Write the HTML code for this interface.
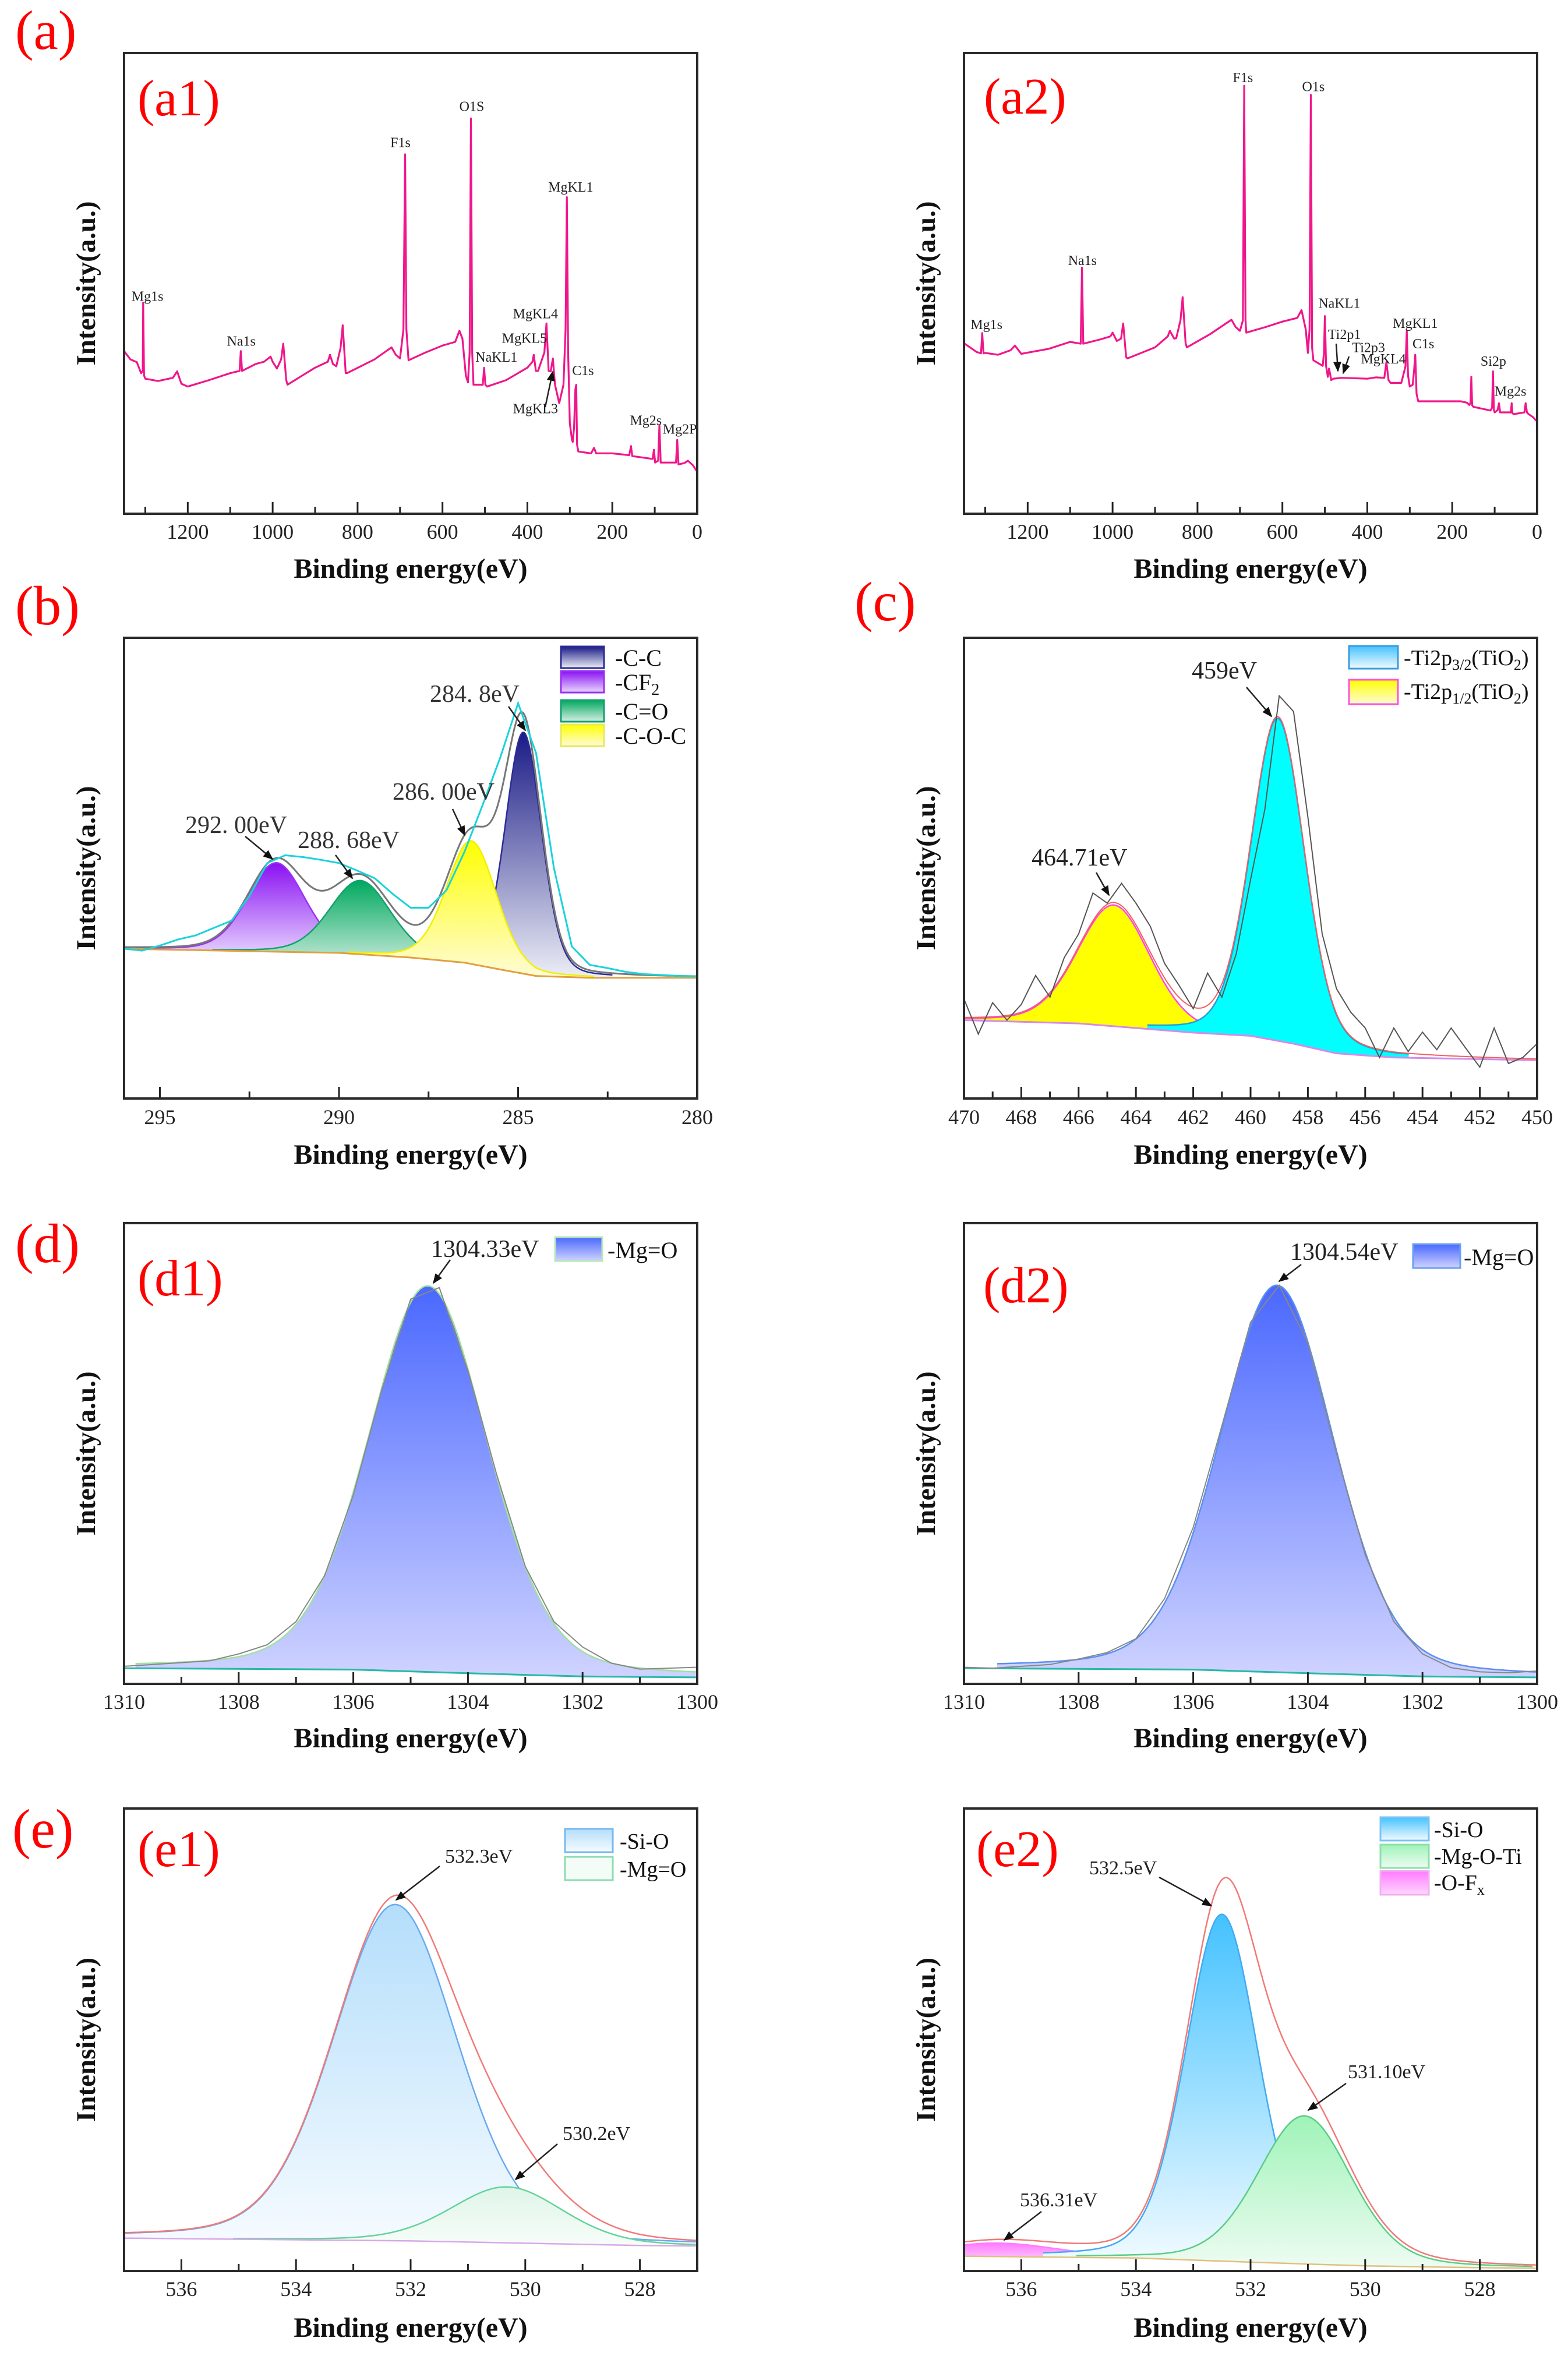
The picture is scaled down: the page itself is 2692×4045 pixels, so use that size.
<!DOCTYPE html>
<html><head><meta charset="utf-8">
<style>
html,body{margin:0;padding:0;background:#fff;}
svg{display:block;}
text{font-family:"Liberation Serif","Noto Serif CJK SC",serif;}
</style></head>
<body>
<svg id="fig" xmlns="http://www.w3.org/2000/svg" width="2692" height="4045" viewBox="0 0 2692 4045">
<defs id="defs">
<marker id="arr" viewBox="0 0 10 10" refX="9" refY="5" markerWidth="7" markerHeight="7" orient="auto"><path d="M0,1 L10,5 L0,9 z" fill="#111"/></marker>
</defs>
<rect x="0" y="0" width="2692" height="4045" fill="#fff"/>
</svg>
<script>
// ---------- DATA ----------
const a1Spectrum = [[1350,35.3],[1335,33.5],[1320,32.9],[1310,30.5],[1306,31],[1305,45.8],[1303,30],[1300,29.3],[1270,28.8],[1235,29.5],[1225,30.9],[1215,28.2],[1200,27.6],[1150,29],[1100,30.5],[1078,31],[1075,35.3],[1072,31],[1040,32.5],[1020,33],[1005,34.1],[1000,33],[990,31.5],[980,33.5],[975,36.9],[968,29],[965,28.0],[930,30],[900,31.7],[870,33],[865,34.5],[858,32.5],[850,32],[840,36],[835,40.9],[828,30.5],[825,30.5],[760,33.5],[720,36.1],[710,34.5],[700,33.7],[692,40],[688,78],[685,40],[680,33.3],[640,35],[600,36.5],[570,37.3],[560,39.7],[553,38],[545,30],[540,28.5],[536,35],[533,85.8],[530,35],[527,28],[505,28],[502,31.7],[499,28],[495,27.6],[450,29],[400,31.7],[388,33],[385,34.5],[380,31],[375,31],[360,35],[355,41.3],[350,31],[345,30.9],[340,33.7],[335,28],[325,24],[315,28],[310,40],[307,68.7],[304,35],[300,19.6],[295,16],[293,15.6],[290,18.8],[287,27],[285,28],[283,15],[280,13.5],[250,13.1],[243,14.3],[238,13.1],[200,13.1],[160,12.7],[156,14.7],[153,12.5],[105,11.9],[102,13.9],[99,11.1],[92,11.5],[89,19.2],[86,11.1],[50,11.1],[47,16.0],[44,10.7],[30,11],[22,11.5],[10,10.5],[0,9.1]];
const a1Labels = [["Mg1s",1295,46.2],["Na1s",1074,36.5],["F1s",699,79.6],["O1S",531,87.4],["MgKL1",298,69.9],["MgKL4",381,42.4],["MgKL5",407,37.1],["NaKL1",473,33.0],["C1s",269,30.1],["MgKL3",381,21.8],["Mg2s",121,19.3],["Mg2P",41,17.4]];
const a2Spectrum = [[1350,37.0],[1320,35.1],[1310,34.8],[1307,39.2],[1304,34.8],[1300,34.9],[1270,34.5],[1240,35.5],[1230,36.5],[1215,34.7],[1150,35.8],[1100,37.3],[1075,36.9],[1072,53.4],[1069,36.9],[1030,37.8],[1005,38.5],[1000,39.3],[990,37.5],[980,38],[975,41.3],[968,34],[965,33.7],[930,35],[900,36.1],[870,38.5],[865,39.7],[855,38],[850,38.1],[840,42],[835,47.0],[828,37],[825,36.1],[770,39],[720,42.1],[710,40.5],[700,39.7],[693,42],[690,92.9],[687,42],[685,39.3],[640,40.5],[600,41.7],[565,42.5],[555,44.2],[545,40],[540,34.9],[536,40],[533,90.9],[530,36],[527,33.3],[505,32.1],[502,35],[500,42.9],[497,32],[493,29.7],[490,31.5],[485,29],[480,29.3],[460,29.5],[400,29.3],[380,29.6],[360,29.5],[355,32.9],[350,29],[345,28.4],[320,28.4],[310,32],[307,39.7],[304,30],[300,27.6],[293,28],[290,30.9],[287,34.5],[284,26],[280,24.4],[200,24.4],[180,24.4],[165,24.1],[160,23.6],[157,24],[155,29.7],[153,23.5],[150,23.2],[110,22.4],[106,23],[104,30.9],[102,22.5],[100,22.0],[93,22.5],[90,24.0],[87,22],[85,22],[62,22],[60,24],[58,21.8],[55,21.6],[30,22],[27,24.0],[24,22],[20,21.6],[10,21],[0,20.0]];
const a2Labels = [["Mg1s",1297,40.1],["Na1s",1071,54.0],["F1s",693,93.7],["O1s",527,91.7],["NaKL1",466,44.7],["Ti2p1",454,37.9],["Ti2p3",397,35.1],["MgKL4",362,32.6],["MgKL1",287,40.3],["C1s",268,35.9],["Si2p",103,32.1],["Mg2s",63,25.6]];
const surveyMajor = [1200,1000,800,600,400,200,0];
const surveyMinor = [1300,1100,900,700,500,300,100];

const bBaseline = [[296,32.5],[290,31.6],[288,30.6],[286.5,29.5],[285.5,28.0],[284.5,26.6],[283,26.2],[280,26.2]];
const bNames = ["-C-C","-CF2","-C=O","-C-O-C"];
const bCenters = [284.85,291.75,289.4,286.3];
const bHeights = [52.4,19.3,16.0,26.7];
const bFwhm = [1.2,1.9,2.0,1.65];
const bRaw = [[296,32.5],[295.5,32.1],[295,33.2],[294.5,34.5],[294,35.4],[293.5,37.0],[293,38.6],[292.5,44],[292,51.1],[291.5,52.8],[291,52.4],[290.5,51.8],[290,51.1],[289.5,49.5],[289,47.8],[288.5,44.4],[288,41.4],[287.5,41.4],[287,45.2],[286.5,53.5],[286,63.5],[285.5,74],[285,85.8],[284.5,75],[284,50],[283.5,33],[283,29],[282.5,28.3],[282,27.5],[281.5,27],[281,26.8],[280.5,26.6],[280,26.5]];
const bMajor = [295,290,285,280];
const bMinor = [292.5,287.5,282.5];

const cBaseline = [[470,17.0],[466,16.3],[464,15.3],[462,14.3],[460,13.6],[458.5,11.9],[457,9.8],[455,8.9],[450,8.3]];
const cCenters = [459.05,464.77];
const cHeights = [70,26.3];
const cFwhm = [2.2,3.0];
const cRaw = [[470,21.6],[469.5,14],[469,20.8],[468.5,17],[468,20.4],[467.5,26.7],[467,22],[466.5,30.6],[466,35.7],[465.5,44.6],[465,42.4],[464.5,46.7],[464,42.4],[463.5,37.4],[463,29.3],[462.5,24.6],[462,19.5],[461.5,27.2],[461,22],[460.5,31.4],[460,47.5],[459.5,62.8],[459,87.4],[458.5,84],[458,61.1],[457.5,35.7],[457,23.8],[456.5,18.7],[456,15.3],[455.5,8.9],[455,15.3],[454.5,10.2],[454,14.4],[453.5,10.6],[453,15.3],[452.5,11],[452,6.8],[451.5,15.3],[451,7.6],[450.5,8.9],[450,11.9]];
const cMajor = [470,468,466,464,462,460,458,456,454,452,450];
const cMinor = [469,467,465,463,461,459,457,455,453,451];

const dBaseline = [[1310,3.4],[1306,3.1],[1304,2.3],[1302,1.6],[1300,1.4]];
const d1Center = [1304.7], d1Height = [83.8], d1Fwhm = [2.45];
const d2Center = [1304.54], d2Height = [84.0], d2Fwhm = [2.35];
const d1Raw = [[1310,3.8],[1309.5,4.2],[1309,4.6],[1308.5,5],[1308,6.5],[1307.5,8.5],[1307,13.5],[1306.5,23.5],[1306,41],[1305.5,64],[1305,83.5],[1304.5,86],[1304,68],[1303.5,45.5],[1303,25.5],[1302.5,13.5],[1302,8],[1301.5,4.5],[1301,3.2],[1300.5,3.4],[1300,3.6]];
const d2Raw = [[1310,3.6],[1309.5,3.4],[1309,3.8],[1308.5,4.2],[1308,5.4],[1307.5,6.8],[1307,9.8],[1306.5,18.5],[1306,34],[1305.5,56],[1305,78.5],[1304.5,86.5],[1304,74],[1303.5,50],[1303,28],[1302.5,13.5],[1302,6.5],[1301.5,3.5],[1301,2.6],[1300.5,2.4],[1300,2.8]];
const dMajor = [1310,1308,1306,1304,1302,1300];
const dMinor = [1309,1307,1305,1303,1301];

const e1Baseline = [[537,7.1],[532,6.5],[530,6.0],[528,5.5],[527,5.4]];
const e1Centers = [532.27,530.32];
const e1Heights = [72.7,12.1];
const e1Fwhm = [2.55,2.3];
const e2Baseline = [[537,3.2],[534,2.8],[532,1.9],[530,1.1],[528,0.7],[527,0.6]];
const e2Centers = [532.5,531.06,536.4];
const e2Heights = [75,32,2.9];
const e2Fwhm = [1.5,1.92,2.5];
const eMajor = [536,534,532,530,528];
const eMinor = [535,533,531,529];

// ---------- HELPERS ----------
const NS = "http://www.w3.org/2000/svg";
const svg = document.getElementById('fig');
const defs = document.getElementById('defs');
function mk(tag, attrs, name, parent){
  const e = document.createElementNS(NS, tag);
  for (const k in attrs) e.setAttribute(k, attrs[k]);
  
  
  (parent || svg).appendChild(e);
  return e;
}
function txt(x, y, s, size, name, opt){
  opt = opt || {};
  const e = mk('text', {x:x, y:y, 'font-size':size, fill:opt.fill||'#111', 'text-anchor':opt.anchor||'start', 'font-weight':opt.weight||'normal'}, name, opt.parent);
  if (opt.rot) e.setAttribute('transform', 'rotate(' + opt.rot + ' ' + x + ' ' + y + ')');
  e.innerHTML = s;
  return e;
}
function grad(id, top, bottom){
  const g = document.createElementNS(NS, 'linearGradient');
  g.setAttribute('id', id); g.setAttribute('x1','0'); g.setAttribute('y1','0'); g.setAttribute('x2','0'); g.setAttribute('y2','1');
  g.innerHTML = '<stop offset="0" stop-color="' + top + '"/><stop offset="1" stop-color="' + bottom + '"/>';
  defs.appendChild(g);
}
function interp(arr, x){
  for (let i = 0; i < arr.length - 1; i++){
    const a = arr[i], b = arr[i+1];
    if ((x <= a[0] && x >= b[0]) || (x >= a[0] && x <= b[0])){
      const t = (x - a[0]) / (b[0] - a[0]);
      return a[1] + t * (b[1] - a[1]);
    }
  }
  return arr[arr.length-1][1];
}
function gl(x, c, a, f){
  const t = (x - c) / f;
  return a * (0.78 * Math.exp(-4 * Math.LN2 * t * t) + 0.22 / (1 + 4 * t * t));
}
function makeAxes(p){
  p.sx = v => p.x0 + (p.xL - v) / (p.xL - p.xR) * p.w;
  p.sy = v => p.y0 + p.h - v / 100 * p.h;
}
function frame(p, key){
  const g = mk('g', {}, 'panel-' + key + '-axes');
  p.major.forEach(v => {
    mk('line', {x1:p.sx(v), x2:p.sx(v), y1:p.y0+p.h, y2:p.y0+p.h-20, stroke:'#222', 'stroke-width':3}, 'x-major-tick', g);
    txt(p.sx(v), p.tickY, String(v), 36, 'x-tick-label', {anchor:'middle', fill:'#222', parent:g});
  });
  p.minor.forEach(v => {
    mk('line', {x1:p.sx(v), x2:p.sx(v), y1:p.y0+p.h, y2:p.y0+p.h-12, stroke:'#222', 'stroke-width':3}, 'x-minor-tick', g);
  });
  mk('rect', {x:p.x0, y:p.y0, width:p.w, height:p.h, fill:'none', stroke:'#2a2a2a', 'stroke-width':4}, 'plot-frame', g);
  txt(p.x0 + p.w/2, p.titleY, 'Binding energy(eV)', 48, 'x-axis-title', {anchor:'middle', weight:'bold', parent:g});
  const yx = p.x0 - 50, yy = p.y0 + p.h/2;
  txt(yx, yy, 'Intensity(a.u.)', 47, 'y-axis-title', {anchor:'middle', weight:'bold', rot:-90, parent:g});
}
function polyPath(p, pts){
  return pts.map((q,i) => (i ? 'L' : 'M') + p.sx(q[0]).toFixed(1) + ',' + p.sy(q[1]).toFixed(1)).join(' ');
}
function component(p, base, c, a, f, fill, stroke, name){
  const top = [], bot = [];
  const n = 500;
  for (let i = 0; i <= n; i++){
    const x = p.xL + (p.xR - p.xL) * i / n;
    const v = gl(x, c, a, f);
    if (v < a * 0.012) continue;
    const b = interp(base, x);
    top.push([x, b + v]); bot.push([x, b]);
  }
  const d = polyPath(p, top) + ' ' + bot.reverse().map(q => 'L' + p.sx(q[0]).toFixed(1) + ',' + p.sy(q[1]).toFixed(1)).join(' ') + ' Z';
  mk('path', {d:d, fill:fill, stroke:'none'}, name + '-fill');
  mk('path', {d:polyPath(p, top), fill:'none', stroke:stroke, 'stroke-width':2.5}, name + '-outline');
}
function envelope(p, base, cs, hs, fs){
  const pts = [];
  const n = 500;
  for (let i = 0; i <= n; i++){
    const x = p.xL + (p.xR - p.xL) * i / n;
    let v = interp(base, x);
    for (let k = 0; k < cs.length; k++) v += gl(x, cs[k], hs[k], fs[k]);
    pts.push([x, v]);
  }
  return pts;
}
function line(x1,y1,x2,y2,name){
  mk('line', {x1:x1, y1:y1, x2:x2, y2:y2, stroke:'#222', 'stroke-width':2.5, 'marker-end':'url(#arr)'}, name);
}
function swatch(x, y, w, h, fill, stroke, name){
  mk('rect', {x:x, y:y, width:w, height:h, fill:fill, stroke:stroke, 'stroke-width':3}, name);
}

// ---------- PANELS ----------
const W = 984, H = 791;
const P = {
  a1:{x0:213, y0:91, w:W, h:H, xL:1350, xR:0, major:surveyMajor, minor:surveyMinor, tickY:925, titleY:992},
  a2:{x0:1655, y0:91, w:W, h:H, xL:1350, xR:0, major:surveyMajor, minor:surveyMinor, tickY:925, titleY:992},
  b:{x0:213, y0:1095, w:W, h:H, xL:296, xR:280, major:bMajor, minor:bMinor, tickY:1930, titleY:1998},
  c:{x0:1655, y0:1095, w:W, h:H, xL:470, xR:450, major:cMajor, minor:cMinor, tickY:1930, titleY:1998},
  d1:{x0:213, y0:2100, w:W, h:H, xL:1310, xR:1300, major:dMajor, minor:dMinor, tickY:2934, titleY:3000},
  d2:{x0:1655, y0:2100, w:W, h:H, xL:1310, xR:1300, major:dMajor, minor:dMinor, tickY:2934, titleY:3000},
  e1:{x0:213, y0:3105, w:W, h:794, xL:537, xR:527, major:eMajor, minor:eMinor, tickY:3942, titleY:4012},
  e2:{x0:1655, y0:3105, w:W, h:794, xL:537, xR:527, major:eMajor, minor:eMinor, tickY:3942, titleY:4012}
};
for (const k in P) makeAxes(P[k]);

grad('gCC', '#1a1a86', '#eceef6');
grad('gCF', '#8a10f2', '#e8d8ff');
grad('gCO', '#00a85e', '#d6efe4');
grad('gCOC', '#ffff00', '#fffbd8');
grad('gMg', '#4a68ff', '#cfd3ff');
grad('gSi1', '#b4defb', '#f6fbff');
grad('gMgO1', '#dff5e8', '#f7fdf9');
grad('gSi2', '#44c2ff', '#f3fbff');
grad('gMOT', '#9ff3b8', '#eefcf2');
grad('gOF', '#ff7aff', '#ffd6ff');

[['a1', a1Spectrum, a1Labels], ['a2', a2Spectrum, a2Labels]].forEach(s => {
  const p = P[s[0]];
  mk('path', {d:polyPath(p, s[1]), fill:'none', stroke:'#f0168a', 'stroke-width':3.2, 'stroke-linejoin':'round'}, 'survey-spectrum-' + s[0]);
  s[2].forEach(l => {
    txt(p.sx(l[1]), p.sy(l[2]), l[0], 24, 'peak-label', {anchor:'middle', fill:'#222'});
  });
});
line(936, 699, 949, 638, 'mgkl3-arrow');
line(2294, 590, 2297, 637, 'ti2p1-arrow');
line(2316, 612, 2306, 641, 'ti2p3-arrow');

(function(){
  const p = P.b;
  const fills = ['url(#gCC)','url(#gCF)','url(#gCO)','url(#gCOC)'];
  const strokes = ['#2c2c96','#9a30f5','#15a070','#f0f000'];
  [1,2,0,3].forEach(i => component(p, bBaseline, bCenters[i], bHeights[i], bFwhm[i], fills[i], strokes[i], 'c1s-component-' + i));
  mk('path', {d:polyPath(p, bBaseline), fill:'none', stroke:'#e0a040', 'stroke-width':3}, 'c1s-baseline');
  mk('path', {d:polyPath(p, envelope(p, bBaseline, bCenters, bHeights, bFwhm)), fill:'none', stroke:'#777', 'stroke-width':3}, 'c1s-envelope');
  mk('path', {d:polyPath(p, bRaw), fill:'none', stroke:'#19d3dc', 'stroke-width':3}, 'c1s-raw-data');
  const lx = 963, ly = [1110,1152,1202,1244];
  for (let i = 0; i < 4; i++) swatch(lx, ly[i], 74, 37, fills[i], strokes[i] === '#f0f000' ? '#e8e860' : strokes[i], 'legend-swatch');
  txt(1056, 1143, '-C-C', 40, 'legend-entry');
  txt(1056, 1185, '-CF<tspan font-size="28" dy="8">2</tspan>', 40, 'legend-entry');
  txt(1056, 1235, '-C=O', 40, 'legend-entry');
  txt(1056, 1277, '-C-O-C', 40, 'legend-entry');
  txt(738, 1205, '284. 8eV', 42, 'peak-annotation', {fill:'#333'});
  line(873, 1213, 902, 1254, 'annotation-arrow');
  txt(674, 1373, '286. 00eV', 42, 'peak-annotation', {fill:'#333'});
  line(777, 1389, 798, 1434, 'annotation-arrow');
  txt(318, 1430, '292. 00eV', 42, 'peak-annotation', {fill:'#333'});
  line(421, 1436, 468, 1475, 'annotation-arrow');
  txt(511, 1456, '288. 68eV', 42, 'peak-annotation', {fill:'#333'});
  line(576, 1468, 605, 1508, 'annotation-arrow');
})();

(function(){
  const p = P.c;
  component(p, cBaseline, cCenters[1], cHeights[1], cFwhm[1], '#ffff00', '#ff44ee', 'ti2p12-component');
  component(p, cBaseline, cCenters[0], cHeights[0], cFwhm[0], '#00ffff', '#2a9bd8', 'ti2p32-component');
  mk('path', {d:polyPath(p, cBaseline), fill:'none', stroke:'#d48ae8', 'stroke-width':3}, 'ti2p-baseline');
  mk('path', {d:polyPath(p, envelope(p, cBaseline, cCenters, cHeights, cFwhm)), fill:'none', stroke:'#f06060', 'stroke-width':2}, 'ti2p-envelope');
  mk('path', {d:polyPath(p, cRaw), fill:'none', stroke:'#555', 'stroke-width':2}, 'ti2p-raw-data');
  swatch(2316, 1109, 84, 39, 'url(#gSi2)', '#3a9be0', 'legend-swatch');
  swatch(2316, 1167, 84, 42, 'url(#gCOC)', '#ff50e0', 'legend-swatch');
  txt(2410, 1142, '-Ti2p<tspan font-size="26" dy="8">3/2</tspan><tspan dy="-8">(TiO</tspan><tspan font-size="26" dy="8">2</tspan><tspan dy="-8">)</tspan>', 38, 'legend-entry');
  txt(2410, 1200, '-Ti2p<tspan font-size="26" dy="8">1/2</tspan><tspan dy="-8">(TiO</tspan><tspan font-size="26" dy="8">2</tspan><tspan dy="-8">)</tspan>', 38, 'legend-entry');
  txt(2046, 1165, '459eV', 42, 'peak-annotation', {fill:'#222'});
  line(2140, 1180, 2183, 1230, 'annotation-arrow');
  txt(1771, 1486, '464.71eV', 42, 'peak-annotation', {fill:'#222'});
  line(1882, 1498, 1904, 1537, 'annotation-arrow');
})();

[['d1', d1Center, d1Height, d1Fwhm, d1Raw], ['d2', d2Center, d2Height, d2Fwhm, d2Raw]].forEach(s => {
  const p = P[s[0]];
  component(p, dBaseline, s[1][0], s[2][0], s[3][0], 'url(#gMg)', s[0] === 'd1' ? '#a0e0a0' : '#5a90f0', 'mg1s-component-' + s[0]);
  mk('path', {d:polyPath(p, dBaseline), fill:'none', stroke:'#28b8a8', 'stroke-width':3}, 'mg1s-baseline');
  mk('path', {d:polyPath(p, s[4]), fill:'none', stroke:'#888', 'stroke-width':2}, 'mg1s-raw-data');
});
swatch(953, 2124, 81, 41, 'url(#gMg)', '#b8e8b8', 'legend-swatch');
txt(1043, 2160, '-Mg=O', 40, 'legend-entry');
txt(740, 2158, '1304.33eV', 42, 'peak-annotation', {fill:'#222'});
line(773, 2163, 744, 2203, 'annotation-arrow');
swatch(2426, 2136, 81, 41, 'url(#gMg)', '#6aa0f0', 'legend-swatch');
txt(2513, 2172, '-Mg=O', 40, 'legend-entry');
txt(2215, 2163, '1304.54eV', 42, 'peak-annotation', {fill:'#222'});
line(2234, 2171, 2196, 2200, 'annotation-arrow');

(function(){
  const p = P.e1;
  component(p, e1Baseline, e1Centers[0], e1Heights[0], e1Fwhm[0], 'url(#gSi1)', '#6aaaf0', 'si-o-component');
  component(p, e1Baseline, e1Centers[1], e1Heights[1], e1Fwhm[1], 'url(#gMgO1)', '#66d39a', 'mg-o-component');
  mk('path', {d:polyPath(p, e1Baseline), fill:'none', stroke:'#d8a8e8', 'stroke-width':2.5}, 'o1s-baseline');
  mk('path', {d:polyPath(p, envelope(p, e1Baseline, e1Centers, e1Heights, e1Fwhm)), fill:'none', stroke:'#f07a78', 'stroke-width':2.5}, 'o1s-envelope');
  swatch(970, 3140, 82, 40, 'url(#gSi1)', '#78b8f0', 'legend-swatch');
  swatch(970, 3188, 82, 40, '#f4fcf7', '#8adcb0', 'legend-swatch');
  txt(1064, 3174, '-Si-O', 38, 'legend-entry');
  txt(1064, 3222, '-Mg=O', 38, 'legend-entry');
  txt(764, 3198, '532.3eV', 34, 'peak-annotation', {fill:'#222'});
  line(755, 3204, 680, 3262, 'annotation-arrow');
  txt(966, 3674, '530.2eV', 34, 'peak-annotation', {fill:'#222'});
  line(957, 3681, 885, 3742, 'annotation-arrow');
})();

(function(){
  const p = P.e2;
  component(p, e2Baseline, e2Centers[2], e2Heights[2], e2Fwhm[2], 'url(#gOF)', '#ff7aff', 'o-fx-component');
  component(p, e2Baseline, e2Centers[0], e2Heights[0], e2Fwhm[0], 'url(#gSi2)', '#44aaf0', 'si-o-component');
  component(p, e2Baseline, e2Centers[1], e2Heights[1], e2Fwhm[1], 'url(#gMOT)', '#5ccc88', 'mg-o-ti-component');
  mk('path', {d:polyPath(p, e2Baseline), fill:'none', stroke:'#e0c080', 'stroke-width':2.5}, 'o1s-baseline');
  mk('path', {d:polyPath(p, envelope(p, e2Baseline, e2Centers, e2Heights, e2Fwhm)), fill:'none', stroke:'#f07a78', 'stroke-width':2.5}, 'o1s-envelope');
  swatch(2370, 3120, 83, 40, 'url(#gSi2)', '#7ac4f4', 'legend-swatch');
  swatch(2370, 3167, 83, 40, 'url(#gMOT)', '#8ee0aa', 'legend-swatch');
  swatch(2370, 3212, 83, 41, 'url(#gOF)', '#f0b0f0', 'legend-swatch');
  txt(2462, 3154, '-Si-O', 38, 'legend-entry');
  txt(2462, 3200, '-Mg-O-Ti', 38, 'legend-entry');
  txt(2462, 3245, '-O-F<tspan font-size="26" dy="8">x</tspan>', 38, 'legend-entry');
  txt(1870, 3218, '532.5eV', 34, 'peak-annotation', {fill:'#222'});
  line(1990, 3223, 2080, 3272, 'annotation-arrow');
  txt(2314, 3568, '531.10eV', 34, 'peak-annotation', {fill:'#222'});
  line(2311, 3577, 2246, 3623, 'annotation-arrow');
  txt(1751, 3788, '536.31eV', 34, 'peak-annotation', {fill:'#222'});
  line(1788, 3797, 1724, 3846, 'annotation-arrow');
})();

for (const k in P) frame(P[k], k);

txt(26, 84, '(a)', 95, 'panel-label-a', {fill:'#ff0000'});
txt(236, 198, '(a1)', 88, 'panel-label-a1', {fill:'#ff0000'});
txt(1689, 195, '(a2)', 88, 'panel-label-a2', {fill:'#ff0000'});
txt(26, 1072, '(b)', 95, 'panel-label-b', {fill:'#ff0000'});
txt(1467, 1065, '(c)', 95, 'panel-label-c', {fill:'#ff0000'});
txt(26, 2167, '(d)', 95, 'panel-label-d', {fill:'#ff0000'});
txt(236, 2224, '(d1)', 88, 'panel-label-d1', {fill:'#ff0000'});
txt(1688, 2236, '(d2)', 88, 'panel-label-d2', {fill:'#ff0000'});
txt(21, 3172, '(e)', 95, 'panel-label-e', {fill:'#ff0000'});
txt(236, 3204, '(e1)', 88, 'panel-label-e1', {fill:'#ff0000'});
txt(1676, 3204, '(e2)', 88, 'panel-label-e2', {fill:'#ff0000'});
</script>
</body></html>
